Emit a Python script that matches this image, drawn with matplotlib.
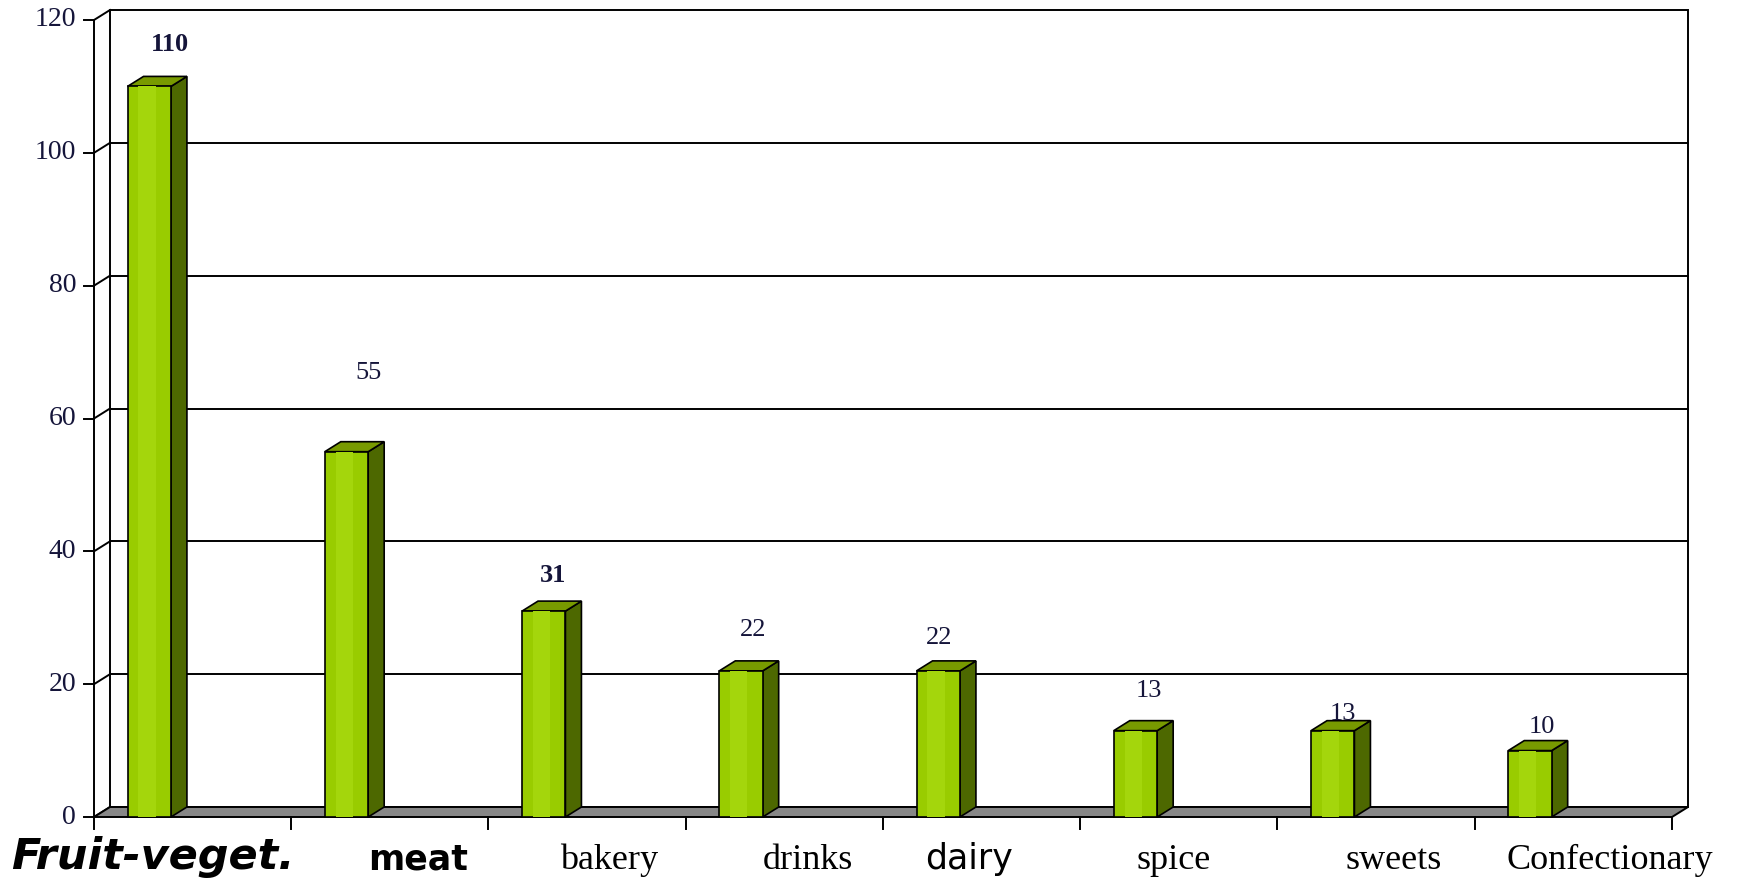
import matplotlib
matplotlib.use("Agg")
import matplotlib.pyplot as plt
from matplotlib.patches import Polygon
import numpy as np

# product groups and counts
categories = ['Fruit-veget.', 'meat', 'bakery', 'drinks', 'dairy', 'spice', 'sweets', 'Confectionary']
counts = [110, 55, 31, 22, 22, 13, 13, 10]
yticks = [0, 20, 40, 60, 80, 100, 120]

# label placement (pixels) and per-label fonts
value_offsets = [(21, 42), (22, 79), (9, 36), (12, 41), (1, 33), (13, 40), (10, 17), (12, 24)]
value_weights = ['bold', 'normal', 'bold', 'normal', 'normal', 'normal', 'normal', 'normal']
cat_offsets = [-40, 28, 22, 24, -13, -5, 18, 36]
cat_styles = [
    dict(family='DejaVu Sans', weight='bold', style='oblique', size=31),
    dict(family='DejaVu Sans', weight='bold', size=25),
    dict(family='Liberation Serif', size=26),
    dict(family='Liberation Serif', size=26),
    dict(family='DejaVu Sans', size=25),
    dict(family='Liberation Serif', size=26),
    dict(family='Liberation Serif', size=26),
    dict(family='Liberation Serif', size=26),
]

W, H = 1737, 884
x0px, x1px = 94, 1672      # front plane, left/right
y0px, ytpx = 817, 20       # front plane, value 0 / value 120

fig = plt.figure(figsize=(W / 100, H / 100), dpi=100)
fig.patch.set_facecolor('white')
ax = fig.add_axes([x0px / W, (H - y0px) / H, (x1px - x0px) / W, (y0px - ytpx) / H])
n = len(categories)
ax.set_xlim(0, n)
ax.set_ylim(0, 120)
ax.axis('off')

px_x = (x1px - x0px) / n          # pixels per category
px_y = (y0px - ytpx) / 120.0      # pixels per unit
ddx = 16 / px_x                    # depth offset
ddy = 10 / px_y

lw = 1.4
# back wall
wall = Polygon([(ddx, ddy), (n + ddx, ddy), (n + ddx, 120 + ddy), (ddx, 120 + ddy)],
               closed=True, facecolor='white', edgecolor='black', lw=lw, clip_on=False, zorder=1)
ax.add_patch(wall)
for v in yticks:
    if 0 < v < 120:
        ax.plot([ddx, n + ddx], [v + ddy, v + ddy], color='black', lw=lw, clip_on=False, zorder=2)
    ax.plot([0, ddx], [v, v + ddy], color='black', lw=lw, clip_on=False, zorder=2)
    ax.plot([-10 / px_x, 0], [v, v], color='black', lw=lw, clip_on=False, zorder=2)
    ax.annotate(str(v), xy=(0, v), xytext=(-18, 0), textcoords='offset pixels',
                ha='right', va='center', fontsize=20, family='Liberation Serif',
                color='#15153a', annotation_clip=False)
ax.plot([0, 0], [0, 120], color='black', lw=lw, clip_on=False, zorder=2)

# floor
floor = Polygon([(0, 0), (n, 0), (n + ddx, ddy), (ddx, ddy)], closed=True,
                facecolor='#878787', edgecolor='black', lw=lw, clip_on=False, zorder=2)
ax.add_patch(floor)
for i in range(n + 1):
    ax.plot([i, i], [0, -12 / px_y], color='black', lw=lw, clip_on=False, zorder=2)

# columns
bw = 0.22
xs = np.arange(n) + 0.17
bars = ax.bar(xs, counts, width=bw, align='edge', color='#99cc00', edgecolor='black',
              lw=1.2, zorder=4, clip_on=False)
for rect, v in zip(bars, counts):
    xl = rect.get_x()
    xr = xl + rect.get_width()
    side = Polygon([(xr, 0), (xr + ddx, ddy), (xr + ddx, v + ddy), (xr, v)], closed=True,
                   facecolor='#4d6800', edgecolor='black', lw=1.2, zorder=3, clip_on=False)
    top = Polygon([(xl, v), (xr, v), (xr + ddx, v + ddy), (xl + ddx, v + ddy)], closed=True,
                  facecolor='#789a00', edgecolor='black', lw=1.2, zorder=3, clip_on=False)
    ax.add_patch(side)
    ax.add_patch(top)
    # lighter stripe down the front face
    ax.bar(xl + rect.get_width() * 0.25, v, width=rect.get_width() * 0.4, align='edge',
           color='#a4d60c', lw=0, zorder=4.5, clip_on=False)

# value labels
for i, (v, (dx, dy)) in enumerate(zip(counts, value_offsets)):
    ax.annotate(str(v), xy=(xs[i] + bw / 2, v), xytext=(dx, dy), textcoords='offset pixels',
                ha='center', va='center', fontsize=19, family='Liberation Serif',
                weight=value_weights[i], color='#15153a', annotation_clip=False)

# category labels
for i, name in enumerate(categories):
    ax.annotate(name, xy=(i + 0.5, 0), xytext=(cat_offsets[i], -52), textcoords='offset pixels',
                ha='center', va='baseline', color='black', annotation_clip=False, **cat_styles[i])

fig.savefig('out.png', dpi=100, facecolor='white')
